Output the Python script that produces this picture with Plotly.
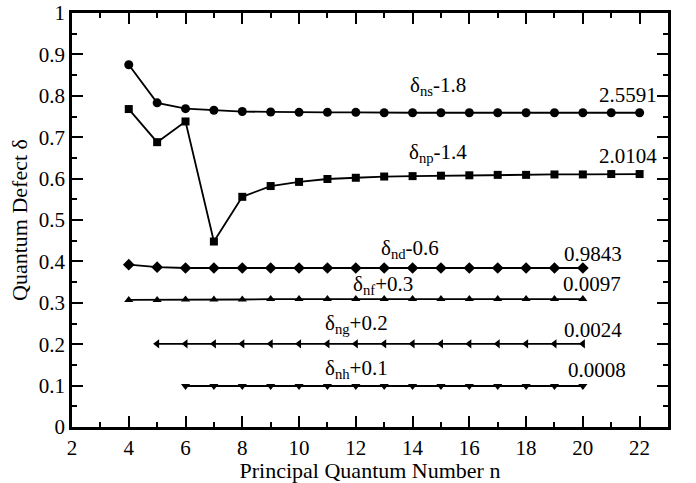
import plotly.graph_objects as go

n_ns = list(range(4, 23))
d_ns = [0.875, 0.783, 0.769, 0.765, 0.762, 0.761, 0.760, 0.760, 0.760, 0.759,
        0.759, 0.759, 0.759, 0.759, 0.759, 0.759, 0.759, 0.759, 0.759]
n_np = list(range(4, 23))
d_np = [0.768, 0.688, 0.738, 0.448, 0.556, 0.582, 0.592, 0.599, 0.602, 0.605,
        0.606, 0.607, 0.608, 0.609, 0.609, 0.610, 0.610, 0.611, 0.611]
n_nd = list(range(4, 21))
d_nd = [0.392, 0.386, 0.384, 0.384, 0.384, 0.384, 0.384, 0.384, 0.384, 0.384,
        0.384, 0.384, 0.384, 0.384, 0.384, 0.384, 0.384]
n_nf = list(range(4, 21))
d_nf = [0.307, 0.307, 0.308, 0.308, 0.308, 0.309, 0.309, 0.309, 0.309, 0.309,
        0.309, 0.309, 0.309, 0.309, 0.309, 0.309, 0.309]
n_ng = list(range(5, 21))
d_ng = [0.201] * 16
n_nh = list(range(6, 21))
d_nh = [0.099] * 15

series = [
    (n_ns, d_ns, "circle", 9),
    (n_np, d_np, "square", 8),
    (n_nd, d_nd, "diamond", 9),
    (n_nf, d_nf, "triangle-up", 8),
    (n_ng, d_ng, "triangle-left", 8),
    (n_nh, d_nh, "triangle-down", 8),
]

labels = [
    ("δ<sub>ns</sub>-1.8", 14.9, 0.823),
    ("δ<sub>np</sub>-1.4", 14.9, 0.663),
    ("δ<sub>nd</sub>-0.6", 13.92, 0.430),
    ("δ<sub>nf</sub>+0.3", 12.96, 0.342),
    ("δ<sub>ng</sub>+0.2", 12.04, 0.248),
    ("δ<sub>nh</sub>+0.1", 12.04, 0.141),
]
values = [
    ("2.5591", 21.58, 0.803),
    ("2.0104", 21.6, 0.654),
    ("0.9843", 20.36, 0.419),
    ("0.0097", 20.33, 0.346),
    ("0.0024", 20.36, 0.2335),
    ("0.0008", 20.5, 0.138),
]

FONT = "Liberation Serif, DejaVu Serif, serif"
fig = go.Figure()
for xs, ys, sym, sz in series:
    fig.add_trace(go.Scatter(x=xs, y=ys, mode="lines+markers",
                             line=dict(color="black", width=1.8),
                             marker=dict(symbol=sym, size=sz, color="black"),
                             showlegend=False, cliponaxis=False))

for txt, x, y in labels + values:
    fig.add_annotation(x=x, y=y, text=txt, showarrow=False,
                       xanchor="center", yanchor="middle",
                       font=dict(family=FONT, size=21, color="black"))

axis_common = dict(showline=True, linecolor="black", linewidth=2.5, mirror="ticks",
                   ticks="inside", ticklen=11, tickwidth=2, tickcolor="black",
                   showgrid=False, zeroline=False, automargin=False,
                   ticklabeloverflow="allow",
                   tickfont=dict(family=FONT, size=21, color="black"))

fig.update_xaxes(range=[2, 23], dtick=2, tick0=2,
                 minor=dict(ticks="inside", dtick=1, ticklen=5, tickwidth=2, tickcolor="black"),
                 title=dict(text="Principal Quantum Number n", standoff=5,
                            font=dict(family=FONT, size=22, color="black")),
                 **axis_common)
fig.update_yaxes(range=[0, 1], dtick=0.1, tick0=0,
                 minor=dict(ticks="inside", dtick=0.05, ticklen=5, tickwidth=2, tickcolor="black"),
                 title=dict(text="Quantum Defect δ", standoff=6,
                            font=dict(family=FONT, size=22, color="black")),
                 **axis_common)

fig.update_layout(width=696, height=483, margin=dict(l=72, r=28, t=13, b=56),
                  plot_bgcolor="white", paper_bgcolor="white",
                  font=dict(family=FONT, color="black"))

fig.write_html("out.html")
